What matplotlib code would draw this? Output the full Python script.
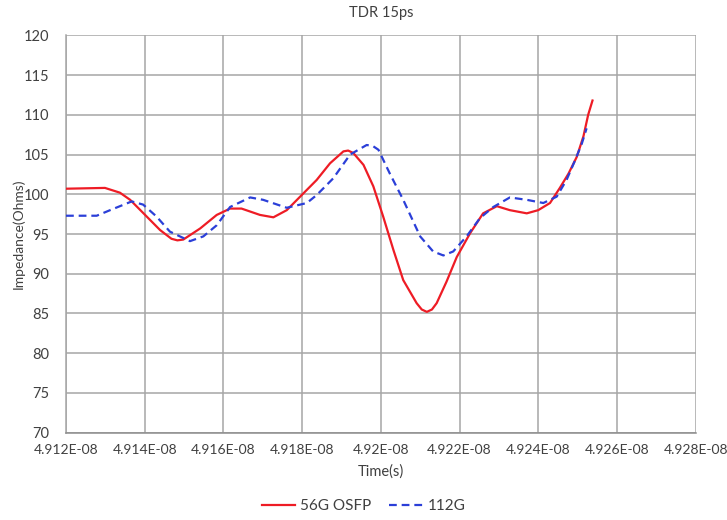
import matplotlib
matplotlib.use("Agg")
import matplotlib.pyplot as plt

# Data (time in seconds, impedance in ohms)
t_56g = [4.91200e-8, 4.91299e-8, 4.91337e-8, 4.91363e-8, 4.91405e-8, 4.91439e-8,
         4.91468e-8, 4.91483e-8, 4.91498e-8, 4.91541e-8, 4.91583e-8, 4.91617e-8, 4.91646e-8,
         4.91693e-8, 4.91727e-8, 4.91761e-8, 4.91795e-8, 4.91837e-8, 4.91871e-8,
         4.91905e-8, 4.91917e-8, 4.91930e-8, 4.91956e-8, 4.91981e-8, 4.92006e-8, 4.92032e-8,
         4.92057e-8, 4.92091e-8, 4.92104e-8, 4.92117e-8, 4.92130e-8, 4.92142e-8, 4.92167e-8, 4.92193e-8,
         4.92227e-8, 4.92260e-8, 4.92295e-8, 4.92328e-8, 4.92371e-8, 4.92400e-8,
         4.92430e-8, 4.92455e-8, 4.92477e-8, 4.92498e-8, 4.92515e-8, 4.92527e-8,
         4.92538e-8]
z_56g = [100.7, 100.8, 100.2, 99.3, 97.2, 95.5,
         94.4, 94.2, 94.3, 95.7, 97.4, 98.2, 98.2,
         97.4, 97.1, 98.0, 99.7, 101.8, 103.9,
         105.4, 105.5, 105.2, 103.7, 101.0, 97.2, 93.0,
         89.2, 86.3, 85.5, 85.2, 85.5, 86.3, 89.0, 92.1,
         95.1, 97.6, 98.5, 98.0, 97.6, 98.0,
         98.9, 100.8, 102.6, 104.7, 107.3, 110.0,
         111.8]

t_112g = [4.91200e-8, 4.91278e-8, 4.91312e-8, 4.91367e-8, 4.91396e-8, 4.91430e-8,
          4.91464e-8, 4.91515e-8, 4.91549e-8, 4.91583e-8, 4.91617e-8, 4.91668e-8,
          4.91701e-8, 4.91761e-8, 4.91812e-8, 4.91837e-8, 4.91879e-8, 4.91922e-8,
          4.91964e-8, 4.91979e-8, 4.91994e-8, 4.92023e-8, 4.92057e-8, 4.92100e-8, 4.92133e-8,
          4.92159e-8, 4.92184e-8, 4.92218e-8, 4.92252e-8, 4.92286e-8, 4.92328e-8,
          4.92371e-8, 4.92413e-8, 4.92447e-8, 4.92472e-8, 4.92494e-8, 4.92511e-8,
          4.92523e-8]
z_112g = [97.3, 97.3, 98.0, 99.1, 98.7, 97.2,
          95.3, 94.1, 94.7, 96.1, 98.4, 99.6,
          99.3, 98.3, 98.9, 99.9, 102.0, 105.0,
          106.2, 106.1, 105.6, 102.6, 99.3, 94.7, 92.8,
          92.3, 92.8, 94.7, 97.0, 98.4, 99.6,
          99.3, 98.9, 99.7, 101.8, 104.3, 106.4,
          108.3]

x_ticks = [4.912e-8, 4.914e-8, 4.916e-8, 4.918e-8, 4.920e-8, 4.922e-8, 4.924e-8, 4.926e-8, 4.928e-8]
x_labels = ["4.912E-08", "4.914E-08", "4.916E-08", "4.918E-08", "4.92E-08",
            "4.922E-08", "4.924E-08", "4.926E-08", "4.928E-08"]
y_ticks = [70, 75, 80, 85, 90, 95, 100, 105, 110, 115, 120]

plt.rcParams['font.family'] = ['Lato', 'DejaVu Sans']
text_col = '#404040'

fig = plt.figure(figsize=(7.27, 5.2), dpi=100)
ax = fig.add_axes([0.0908, 0.168, 0.866, 0.764])

ax.plot(t_56g, z_56g, color='#ee1c25', lw=1.6, label='56G OSFP', zorder=3)
ax.plot(t_112g, z_112g, color='#2b3fd8', lw=1.6, ls=(0, (3.5, 2.2)), label='112G', zorder=3)

ax.set_xlim(x_ticks[0], x_ticks[-1])
ax.set_ylim(70, 120)
ax.set_xticks(x_ticks)
ax.set_xticklabels(x_labels)
ax.set_yticks(y_ticks)
ax.grid(True, color='#a6a6a6', lw=1.1)
ax.set_axisbelow(True)
for s in ['top', 'right']:
    ax.spines[s].set_visible(False)
ax.spines['left'].set_color('#a6a6a6')
ax.spines['left'].set_linewidth(1.1)
ax.spines['bottom'].set_color('#8c8c8c')
ax.spines['bottom'].set_linewidth(1.1)
ax.tick_params(axis='x', length=0, labelsize=10, colors=text_col, pad=8)
ax.tick_params(axis='y', length=0, labelsize=10.5, colors=text_col, pad=12)

ax.set_title('TDR 15ps', fontsize=10.5, color=text_col, pad=13)
ax.set_xlabel('Time(s)', fontsize=10.5, color=text_col, labelpad=6)
ax.set_ylabel('Impedance(Ohms)', fontsize=10, color=text_col, labelpad=-1)

leg = fig.legend(loc='center', bbox_to_anchor=(0.5, 0.026), ncol=2, frameon=False,
                 fontsize=11, handlelength=2.2, columnspacing=1.2, handletextpad=0.3)
for txt in leg.get_texts():
    txt.set_color(text_col)

fig.savefig('out.png', dpi=100)
